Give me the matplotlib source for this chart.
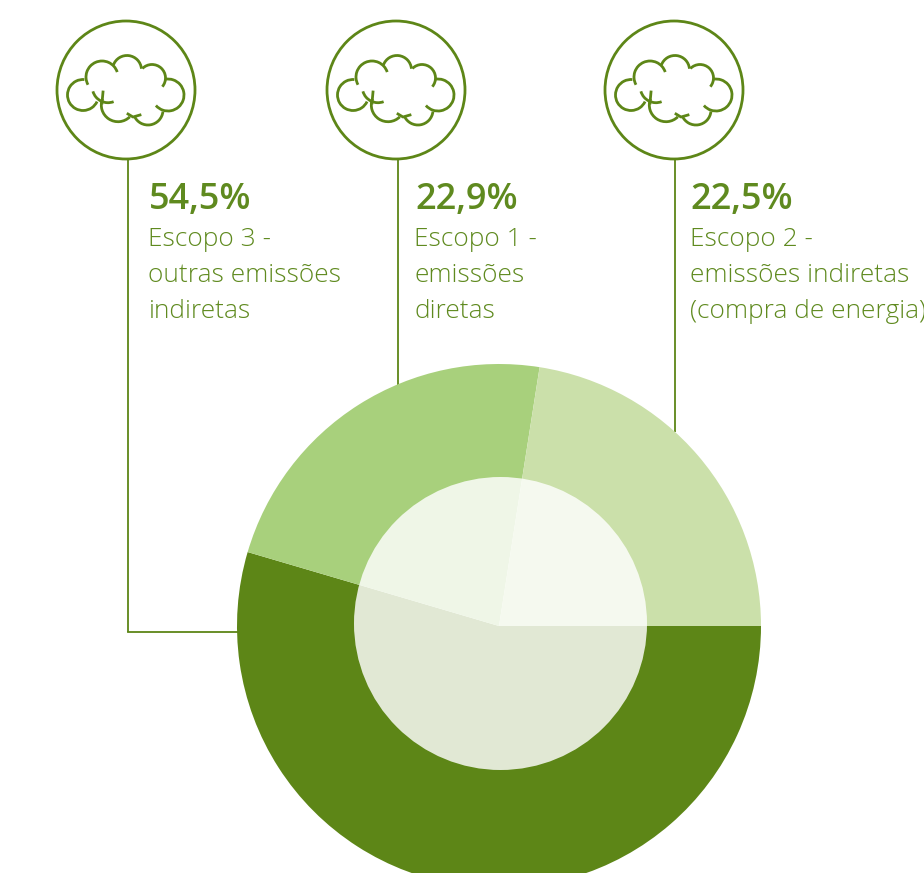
#!/usr/bin/env python3
import matplotlib
matplotlib.use("Agg")
import matplotlib.pyplot as plt
from matplotlib.patches import Arc, Circle

W, H = 924, 873

# valores do grafico
labels = ["54,5%", "22,9%", "22,5%"]
descr = ["Escopo 3 -\noutras emissões\nindiretas",
         "Escopo 1 -\nemissões\ndiretas",
         "Escopo 2 -\nemissões indiretas\n(compra de energia)"]
valores = [54.5, 22.9, 22.5]
cores = ["#5d8617", "#a8d07c", "#cbe0aa"]

VERDE = "#5d8617"
TXT = "#5f8a1f"

# posicoes em pixels da imagem
icon_x = [126, 396, 674]
text_x = [149, 415, 690]
line_x = [127.5, 398, 675]
line_end = [632, 385, 432]


def Y(py):
    return H - py


# arcos da nuvem: dx, dy, raio, ang1, ang2 (relativo ao centro do icone)
CLOUD = [
    (-43, 5, 15.5, 85, 335),
    (-24, -13, 16, 18, 209),
    (1, -20, 14.5, 5, 160),
    (26, -12, 13.5, -40, 135),
    (42, 5, 16, -139, 101),
    (22, 20, 15, 204, 354),
    (-8, 15, 16.7, 158, 315),
    (-18, -3, 15.7, 196, 291),
]


def draw_icon(ax, cx, cy=90):
    ax.add_patch(Circle((cx, Y(cy)), 69, fill=False, ec=VERDE, lw=2.0))
    for dx, dy, r, a1, a2 in CLOUD:
        ax.add_patch(Arc((cx + dx, Y(cy + dy)), 2 * r, 2 * r, theta1=a1, theta2=a2,
                         ec=VERDE, lw=2.0))
    ax.plot([cx - 23, cx - 24], [Y(cy + 2), Y(cy + 13)], color=VERDE, lw=2.0)
    ax.plot([cx + 2, cx + 7, cx + 14], [Y(cy + 24), Y(cy + 27), Y(cy + 25)], color=VERDE, lw=2.0)


fig = plt.figure(figsize=(W / 100, H / 100), dpi=100)
ax = fig.add_axes([0, 0, 1, 1])

# pizza
wedges, _ = ax.pie(valores, colors=cores, radius=262, center=(499, Y(626)),
                   startangle=0, counterclock=False, frame=True,
                   wedgeprops={"linewidth": 0})
for w in wedges:
    w.set_zorder(3)
ax.add_patch(Circle((500.5, Y(623.5)), 146.5, fc="white", ec="none", alpha=0.82, zorder=4))

ax.set_xlim(0, W)
ax.set_ylim(0, H)
ax.set_aspect("equal")
ax.axis("off")

# linhas de ligacao
for x, yend in zip(line_x, line_end):
    ax.plot([x, x], [Y(159), Y(yend)], color=VERDE, lw=1.3, zorder=1, solid_capstyle="butt")
ax.plot([line_x[0], 240], [Y(632), Y(632)], color=VERDE, lw=1.3, zorder=1)

for cx in icon_x:
    draw_icon(ax, cx)

for x, lab, d in zip(text_x, labels, descr):
    ax.text(x, Y(209.5), lab, color=TXT, fontsize=26, fontweight="semibold",
            family="Open Sans", va="baseline", ha="left")
    for i, linha in enumerate(d.split("\n")):
        ax.text(x - 0.5, Y(246 + i * 36), linha, color=TXT, fontsize=18.9, fontweight="light",
                family="Open Sans", va="baseline", ha="left")

fig.savefig("out.png", dpi=100)
